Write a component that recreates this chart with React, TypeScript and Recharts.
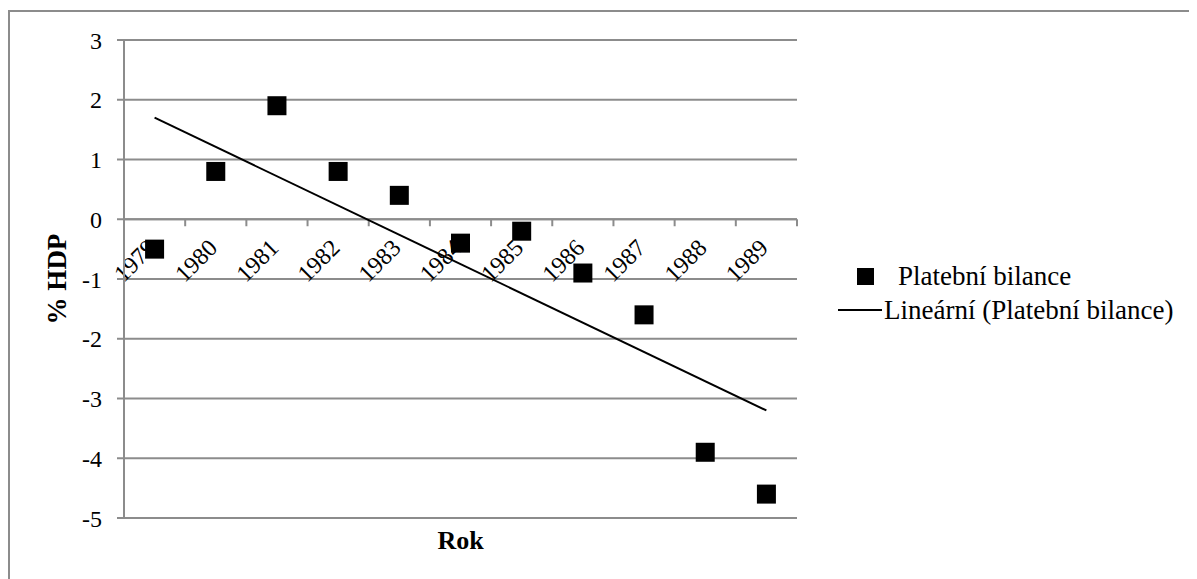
import {
  ComposedChart,
  Scatter,
  Line,
  XAxis,
  YAxis,
  CartesianGrid,
  ReferenceLine,
  Legend,
} from "recharts";

const years = ["1979", "1980", "1981", "1982", "1983", "1984", "1985", "1986", "1987", "1988", "1989"];
const balance = [-0.5, 0.8, 1.9, 0.8, 0.4, -0.4, -0.2, -0.9, -1.6, -3.9, -4.6];
// linear trend as read at the first and last year
const trendEnds = [1.7, -3.2];
const yTicks = [-5, -4, -3, -2, -1, 0, 1, 2, 3];

const FONT = "'Liberation Serif', 'DejaVu Serif', 'Times New Roman', serif";
const GRID = "#8c8c8c";

const data = years.map((year, i) => ({
  year,
  value: balance[i],
  trend: i === 0 ? trendEnds[0] : i === years.length - 1 ? trendEnds[1] : null,
}));

// category axis drawn along the zero line, like the Excel original
function ZeroAxis(props: any) {
  const { x, y, width } = props.viewBox;
  const band = width / years.length;
  return (
    <g>
      {years.map((_, i) => (
        <line key={`t${i}`} x1={x + band * (i + 1)} y1={y} x2={x + band * (i + 1)} y2={y + 7} stroke={GRID} strokeWidth={2} />
      ))}
      {years.map((yr, i) => {
        const ex = x + band * (i + 0.5) + 3;
        const ey = y + 30;
        return (
          <text
            key={`l${i}`}
            x={ex}
            y={ey}
            textAnchor="end"
            transform={`rotate(-45 ${ex} ${ey})`}
            fontFamily={FONT}
            fontSize={24}
            fill="#000"
          >
            {yr}
          </text>
        );
      })}
    </g>
  );
}

function LegendBox() {
  return (
    <svg width={360} height={80} style={{ display: "block" }}>
      <rect x={19} y={13} width={17} height={17} fill="#000" />
      <text x={60} y={30} fontFamily={FONT} fontSize={27} fill="#000">
        Platební bilance
      </text>
      <line x1={0} y1={55} x2={44} y2={55} stroke="#000" strokeWidth={2} />
      <text x={46} y={64} fontFamily={FONT} fontSize={27} fill="#000">
        Lineární (Platební bilance)
      </text>
    </svg>
  );
}

export default function App() {
  return (
    <div style={{ paddingTop: 2 }}>
      <div
        style={{
          borderTop: `2px solid ${GRID}`,
          borderLeft: `2px solid ${GRID}`,
          width: 1187,
          height: 567,
          background: "#fff",
        }}
      >
        <ComposedChart width={1187} height={567} data={data} margin={{ top: 28, right: 400, bottom: 0, left: 0 }}>
          <CartesianGrid vertical={false} stroke={GRID} strokeWidth={2} />
          <XAxis
            dataKey="year"
            scale="band"
            height={61}
            tick={false}
            axisLine={false}
            tickLine={false}
            label={(p: any) => (
              <text
                x={p.viewBox.x + p.viewBox.width / 2}
                y={p.viewBox.y + 22}
                textAnchor="middle"
                dominantBaseline="central"
                fontFamily={FONT}
                fontSize={26}
                fontWeight="bold"
              >
                Rok
              </text>
            )}
          />
          <YAxis
            width={114}
            domain={[-5, 3]}
            ticks={yTicks}
            interval={0}
            axisLine={{ stroke: GRID, strokeWidth: 2 }}
            tickLine={{ stroke: GRID, strokeWidth: 2 }}
            tickSize={7}
            tickMargin={15}
            tick={{ fontFamily: FONT, fontSize: 24, fill: "#000" }}
            label={(p: any) => {
              const cx = p.viewBox.x + 47;
              const cy = p.viewBox.y + p.viewBox.height / 2;
              return (
                <text
                  x={cx}
                  y={cy}
                  textAnchor="middle"
                  dominantBaseline="central"
                  transform={`rotate(-90 ${cx} ${cy})`}
                  fontFamily={FONT}
                  fontSize={27}
                  fontWeight="bold"
                >
                  % HDP
                </text>
              );
            }}
          />
          <ReferenceLine y={0} stroke={GRID} strokeWidth={2} label={(p: any) => <ZeroAxis {...p} />} />
          <Line
            dataKey="trend"
            connectNulls
            stroke="#000"
            strokeWidth={2}
            dot={false}
            activeDot={false}
            isAnimationActive={false}
            legendType="none"
          />
          <Scatter
            dataKey="value"
            fill="#000"
            isAnimationActive={false}
            shape={(p: any) => <rect x={p.cx - 9.5} y={p.cy - 9.5} width={19} height={19} fill="#000" />}
          />
          <Legend
            layout="horizontal"
            verticalAlign="middle"
            align="center"
            content={() => <LegendBox />}
            wrapperStyle={{ position: "absolute", left: 828, top: 243, width: 360 }}
          />
        </ComposedChart>
      </div>
    </div>
  );
}
